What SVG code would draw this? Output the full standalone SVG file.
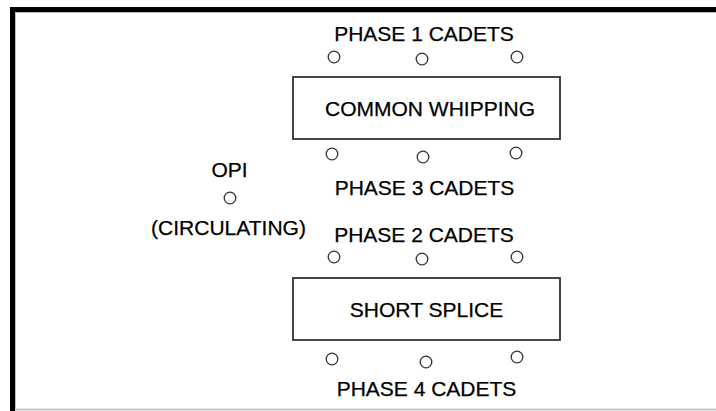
<svg xmlns="http://www.w3.org/2000/svg" width="716" height="411" viewBox="0 0 716 411">
<style>
  text { font-family: "Liberation Sans", Arial, sans-serif; font-size: 21px; fill: #000; stroke: #000; stroke-width: 0.25; text-anchor: middle; }
  .box { fill: #fff; stroke: #333; stroke-width: 1.8; }
  .cadet { fill: #fff; stroke: #333; stroke-width: 1.3; }
</style>
<rect x="0" y="0" width="716" height="411" fill="#fff"/>
<g id="frame">
  <rect x="10" y="7" width="706" height="5" fill="#000"/>
  <rect x="10" y="7" width="5" height="404" fill="#000"/>
  <line x1="15" y1="12.5" x2="716" y2="12.5" stroke="#c0c0c0" stroke-width="1"/>
  <line x1="15.5" y1="12" x2="15.5" y2="409" stroke="#c0c0c0" stroke-width="1"/>
  <line x1="15" y1="409.5" x2="716" y2="409.5" stroke="#c8c8c8" stroke-width="2"/>
</g>
<g id="connectors"></g>
<g id="phase1">
  <text x="424" y="41">PHASE 1 CADETS</text>
  <circle class="cadet" cx="334" cy="57" r="5.8"/>
  <circle class="cadet" cx="422" cy="59" r="5.8"/>
  <circle class="cadet" cx="517" cy="57" r="5.8"/>
</g>
<g id="common-whipping">
  <rect class="box" x="293" y="77" width="267" height="62"/>
  <text x="430" y="116">COMMON WHIPPING</text>
</g>
<g id="phase3">
  <circle class="cadet" cx="332" cy="154" r="5.8"/>
  <circle class="cadet" cx="423" cy="157" r="5.8"/>
  <circle class="cadet" cx="516" cy="153" r="5.8"/>
  <text x="424.5" y="195">PHASE 3 CADETS</text>
</g>
<g id="opi">
  <text x="229.5" y="177">OPI</text>
  <circle class="cadet" cx="230" cy="198" r="5.8"/>
  <text x="228.5" y="235">(CIRCULATING)</text>
</g>
<g id="phase2">
  <text x="424" y="242">PHASE 2 CADETS</text>
  <circle class="cadet" cx="334" cy="257" r="5.8"/>
  <circle class="cadet" cx="422" cy="259" r="5.8"/>
  <circle class="cadet" cx="517" cy="257" r="5.8"/>
</g>
<g id="short-splice">
  <rect class="box" x="293" y="278" width="267" height="62"/>
  <text x="426.5" y="317">SHORT SPLICE</text>
</g>
<g id="phase4">
  <circle class="cadet" cx="332" cy="359" r="5.8"/>
  <circle class="cadet" cx="426" cy="362" r="5.8"/>
  <circle class="cadet" cx="517" cy="357" r="5.8"/>
  <text x="426.5" y="396">PHASE 4 CADETS</text>
</g>
</svg>
